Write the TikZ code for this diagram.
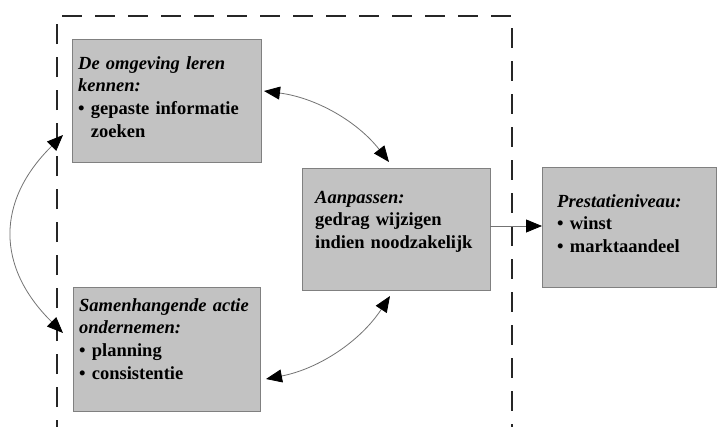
\documentclass[tikz,border=0pt]{standalone}
\usepackage{fontspec}
\setmainfont{Liberation Serif}
\usetikzlibrary{arrows.meta}
\begin{document}
\begin{tikzpicture}[x=1pt,y=-1pt,
  boxnode/.style={draw=black!50, line width=0.8pt, fill=black!24, inner sep=0pt},
  txt/.style={anchor=base west, inner sep=0pt, text width=200pt, align=left,
    font=\fontsize{18.5}{22.7}\selectfont\bfseries},
  tipA/.tip={Triangle[length=16pt,width=13pt,color=black]},
  conn/.style={draw=black!55, line width=0.8pt},
  frame/.style={line width=2.4pt, draw=black!85, dash pattern=on 20pt off 13pt}]
\useasboundingbox (0,0) rectangle (719,426);
\fill[white] (0,0) rectangle (719,426);
\begin{scope}
  \clip (0,0) rectangle (719,426);
  \draw[frame] (57,440) -- (57,16) -- (512,16) -- (512,440);
\end{scope}
% boxes
\node[boxnode, minimum width=189pt, minimum height=123pt] (b1) at (166.5,100.5) {};
\node[boxnode, minimum width=188pt, minimum height=122pt] (b2) at (396,229) {};
\node[boxnode, minimum width=174pt, minimum height=120pt] (b3) at (629,227) {};
\node[boxnode, minimum width=187pt, minimum height=124pt] (b4) at (166.5,349) {};
% texts
\node[txt] (t1) at (78,69) {\textit{De omgeving leren}\\\textit{kennen:}\\\textbullet\ gepaste informatie\\\phantom{\textbullet\ }zoeken};
\node[txt] (t2) at (315,203) {\textit{Aanpassen:}\\gedrag wijzigen\\indien noodzakelijk};
\node[txt] (t3) at (557,207) {\textit{Prestatieniveau:}\\\textbullet\ winst\\\textbullet\ marktaandeel};
\node[txt] (t4) at (79,311) {\textit{Samenhangende actie}\\\textit{ondernemen:}\\\textbullet\ planning\\\textbullet\ consistentie};
% connector end points
\coordinate (a1s) at (264,91);
\coordinate (a1e) at (389,162);
\coordinate (a2s) at (390,296);
\coordinate (a2e) at (266,379);
\coordinate (a3s) at (63,135);
\coordinate (a3e) at (63,333);
\coordinate (a4s) at (490,226);
\coordinate (a4e) at (542,226);
% connectors
\draw[conn, tipA-tipA] (a1s) .. controls (315.7,97.7) and (357.1,121.1) .. (a1e);
\draw[conn, tipA-tipA] (a2s) .. controls (360.4,341.2) and (319,368.8) .. (a2e);
\draw[conn, tipA-tipA] (a3s) .. controls (-4,201) and (-4,267) .. (a3e);
\draw[conn, -tipA] (a4s) -- (a4e);
\end{tikzpicture}
\end{document}
